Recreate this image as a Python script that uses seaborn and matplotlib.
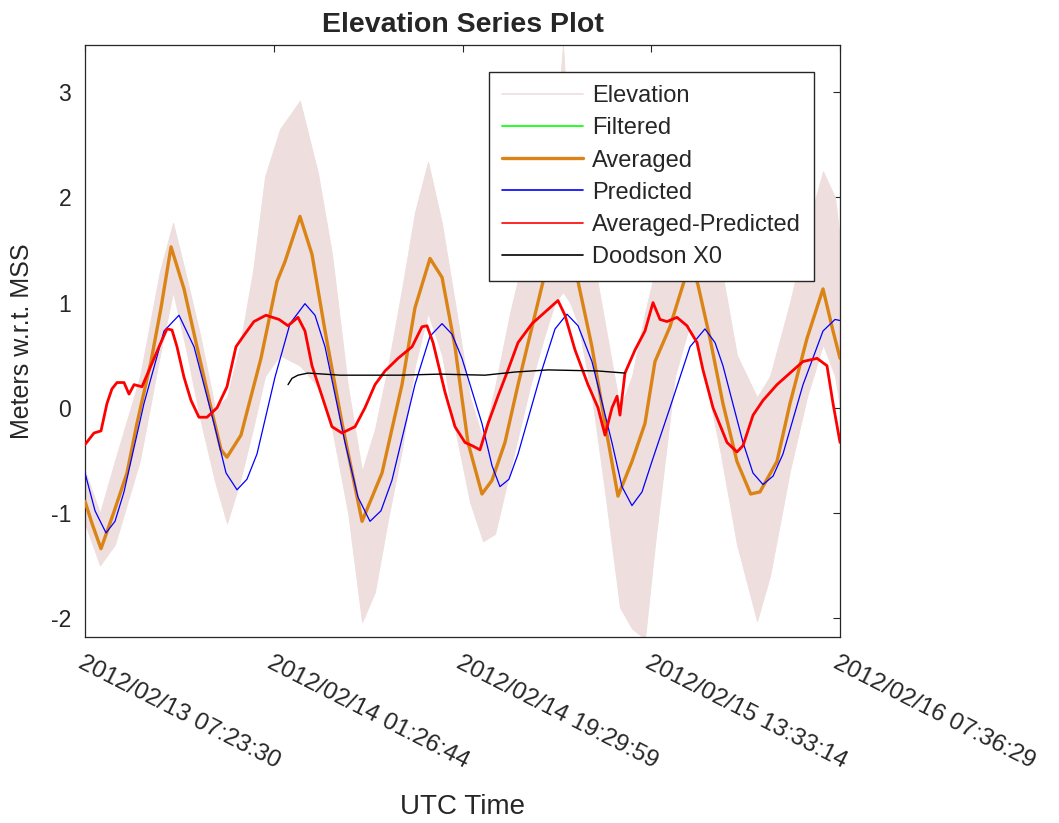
import numpy as np
import pandas as pd
import matplotlib
matplotlib.use("Agg")
import matplotlib.pyplot as plt
import seaborn as sns
from matplotlib.lines import Line2D

# ---------------- data (hours since 2012/02/13 07:23:30) ----------------
avg_t = [0.00, 0.67, 1.53, 2.77, 4.02, 4.97, 6.31, 7.27, 8.23, 9.47,
         10.71, 12.05, 13.01, 13.58, 14.92, 15.49, 16.83, 18.36, 19.13, 20.56,
         21.71, 22.96, 24.59, 26.50, 28.41, 30.32, 31.56, 33.00, 34.15, 35.39,
         36.63, 37.97, 38.93, 40.17, 41.42, 42.76, 43.81, 45.53, 47.16, 48.49,
         49.74, 50.98, 52.32, 53.56, 54.52, 55.95, 57.20, 57.87, 58.63, 59.78,
         61.02, 62.36, 63.67, 64.56, 66.19, 67.43, 69.06, 70.59, 71.55, 72.22]
avg_v = [-0.89, -1.10, -1.34, -0.99, -0.62, -0.15, 0.44, 0.95, 1.53, 1.13,
         0.58, 0.00, -0.40, -0.47, -0.26, -0.04, 0.47, 1.20, 1.39, 1.82,
         1.46, 0.73, -0.15, -1.08, -0.62, 0.22, 0.95, 1.42, 1.24, 0.58,
         -0.33, -0.82, -0.69, -0.33, 0.22, 0.77, 1.20, 1.80, 1.20, 0.58,
         -0.15, -0.84, -0.51, -0.15, 0.44, 0.77, 1.17, 1.40, 1.17, 0.66,
         0.04, -0.51, -0.82, -0.80, -0.51, 0.04, 0.66, 1.13, 0.73, 0.47]

pred_t = [0.00, 0.96, 2.01, 2.87, 3.73, 5.64, 7.56, 8.99, 10.43, 12.34,
          13.49, 14.54, 15.49, 16.45, 18.17, 19.61, 21.04, 22.00, 22.96, 24.87,
          26.11, 27.26, 28.31, 29.36, 31.56, 33.00, 34.15, 35.10, 36.06, 37.97,
          38.93, 39.69, 40.55, 41.42, 43.71, 44.96, 46.10, 47.16, 48.49, 50.40,
          51.36, 52.32, 53.28, 54.23, 55.95, 57.87, 59.30, 60.26, 61.02, 62.94,
          63.89, 64.85, 65.81, 66.76, 68.68, 70.59, 71.74, 72.22]
pred_v = [-0.62, -0.98, -1.19, -1.08, -0.80, 0.04, 0.73, 0.88, 0.58, -0.15,
          -0.62, -0.78, -0.68, -0.44, 0.29, 0.80, 0.99, 0.88, 0.58, -0.33,
          -0.85, -1.08, -0.98, -0.69, 0.22, 0.68, 0.80, 0.70, 0.47, -0.15,
          -0.55, -0.75, -0.68, -0.44, 0.36, 0.75, 0.89, 0.78, 0.44, -0.33,
          -0.75, -0.93, -0.80, -0.51, 0.00, 0.58, 0.75, 0.62, 0.40, -0.33,
          -0.62, -0.73, -0.65, -0.44, 0.22, 0.73, 0.84, 0.83]

diff_t = [0.00, 0.86, 1.53, 2.10, 2.58, 3.06, 3.73, 4.21, 4.69, 5.45,
          6.31, 7.08, 7.84, 8.32, 8.80, 9.47, 10.14, 10.90, 11.67, 12.63,
          13.58, 14.44, 15.21, 16.16, 17.31, 18.56, 19.42, 20.37, 21.04, 21.71,
          22.67, 23.62, 24.58, 25.83, 26.78, 27.74, 28.70, 29.94, 31.28, 32.23,
          32.71, 33.29, 34.43, 35.39, 36.35, 37.02, 37.78, 38.55, 39.50, 40.46,
          41.42, 42.76, 44.00, 45.24, 45.91, 46.87, 48.11, 49.07, 49.74, 50.41,
          50.89, 51.17, 51.65, 52.61, 53.56, 54.33, 55.00, 55.67, 56.62, 57.58,
          58.54, 59.11, 60.07, 61.41, 62.36, 62.94, 63.90, 64.85, 66.19, 67.43,
          68.68, 70.02, 70.97, 71.55, 72.22]
diff_v = [-0.35, -0.24, -0.22, 0.04, 0.18, 0.24, 0.24, 0.13, 0.22, 0.20,
          0.40, 0.58, 0.75, 0.74, 0.58, 0.29, 0.07, -0.09, -0.09, 0.00,
          0.20, 0.58, 0.69, 0.82, 0.88, 0.84, 0.78, 0.86, 0.73, 0.40,
          0.11, -0.18, -0.24, -0.18, 0.00, 0.22, 0.35, 0.47, 0.58, 0.77,
          0.78, 0.62, 0.15, -0.18, -0.33, -0.36, -0.40, -0.15, 0.11, 0.36,
          0.62, 0.80, 0.91, 1.02, 0.88, 0.55, 0.22, 0.00, -0.26, 0.00,
          0.11, -0.07, 0.33, 0.55, 0.73, 1.00, 0.84, 0.82, 0.86, 0.78,
          0.62, 0.36, 0.00, -0.33, -0.42, -0.36, -0.07, 0.07, 0.22, 0.33,
          0.44, 0.47, 0.40, 0.04, -0.33]

x0_t = [19.42, 19.80, 20.37, 21.33, 24.39, 30.13, 33.96, 38.26, 41.13, 44.29, 49.07, 51.65]
x0_v = [0.22, 0.28, 0.31, 0.33, 0.31, 0.31, 0.32, 0.31, 0.34, 0.36, 0.35, 0.33]

elev_t = [0.0, 1.43, 2.87, 5.26, 7.17, 8.42, 9.57, 11.0, 12.43, 13.58,
          14.83, 16.07, 17.22, 18.65, 20.56, 22.29, 23.63, 25.16, 26.5, 27.74,
          28.99, 30.32, 31.56, 32.81, 34.15, 35.39, 36.83, 38.07, 39.22, 40.65,
          42.57, 44.0, 44.96, 45.72, 46.39, 47.16, 48.49, 49.74, 51.17, 52.32,
          53.56, 54.52, 56.43, 57.87, 59.3, 60.74, 62.36, 64.28, 65.52, 67.43,
          69.06, 70.59, 71.74, 72.22]
elev_hi = [-0.6, -1.0, -0.5, 0.3, 1.3, 1.76, 1.3, 0.7, 0.0, 0.1,
           0.6, 1.3, 2.2, 2.65, 2.92, 2.23, 1.46, 0.2, -0.6, -0.2,
           0.4, 1.13, 1.86, 2.34, 1.75, 1.0, 0.1, -0.3, 0.2, 0.9,
           1.7, 2.3, 2.5, 3.45, 2.4, 2.2, 1.5, 0.8, 0.0, 0.3,
           0.9, 1.3, 2.1, 2.4, 2.0, 1.4, 0.5, 0.1, 0.3, 1.0,
           1.7, 2.25, 2.0, 1.6]
elev_lo = [-1.1, -1.5, -1.3, -0.5, 0.5, 1.1, 0.6, -0.1, -0.7, -1.1,
           -0.7, -0.2, 0.3, 0.5, 0.4, 0.2, -0.2, -1.0, -2.04, -1.75,
           -1.06, -0.4, 0.4, 0.9, 0.5, -0.2, -0.9, -1.27, -1.2, -0.6,
           0.2, 0.7, 1.0, 1.1, 1.0, 0.8, 0.1, -0.8, -1.9, -2.1,
           -2.2, -1.3, 0.3, 0.8, 0.3, -0.4, -1.3, -2.03, -1.6, -0.6,
           0.1, 0.6, 0.3, 0.0]

tick_hours = [0.0, 18.054, 36.108, 54.162, 72.216]
tick_labels = ["2012/02/13 07:23:30", "2012/02/14 01:26:44", "2012/02/14 19:29:59",
               "2012/02/15 13:33:14", "2012/02/16 07:36:29"]
y_ticks = [-2, -1, 0, 1, 2, 3]

# ---------------- styling ----------------
sns.set_theme(style="white")
plt.rcParams["font.family"] = ["Liberation Sans", "DejaVu Sans"]

C_ELEV = "#EEDEDE"
C_FILT = "#00FF00"
C_AVG = "#DA8416"
C_PRED = "#0000FF"
C_DIFF = "#FF0000"
C_X0 = "#000000"
C_AX = "#262626"

fig = plt.figure(figsize=(10.59, 8.23), dpi=100)
ax = fig.add_axes([85 / 1059, 1 - 637 / 823, 755 / 1059, 592 / 823])

ax.fill_between(elev_t, elev_lo, elev_hi, color=C_ELEV, lw=0.6, ec=C_ELEV, zorder=1)

df_avg = pd.DataFrame({"t": avg_t, "v": avg_v})
df_pred = pd.DataFrame({"t": pred_t, "v": pred_v})
df_diff = pd.DataFrame({"t": diff_t, "v": diff_v})
df_x0 = pd.DataFrame({"t": x0_t, "v": x0_v})

sns.lineplot(data=df_avg, x="t", y="v", ax=ax, color=C_FILT, lw=0.6, sort=False, estimator=None, zorder=2)
sns.lineplot(data=df_avg, x="t", y="v", ax=ax, color=C_AVG, lw=2.4, sort=False, estimator=None, zorder=3)
sns.lineplot(data=df_pred, x="t", y="v", ax=ax, color=C_PRED, lw=0.9, sort=False, estimator=None, zorder=4)
sns.lineplot(data=df_diff, x="t", y="v", ax=ax, color=C_DIFF, lw=2.0, sort=False, estimator=None, zorder=5)
sns.lineplot(data=df_x0, x="t", y="v", ax=ax, color=C_X0, lw=1.0, sort=False, estimator=None, zorder=6)

ax.set_xlim(tick_hours[0], tick_hours[-1])
ax.set_ylim(-2.18, 3.45)
ax.set_xticks(tick_hours)
ax.set_xticklabels(tick_labels, rotation=-27, ha="left", va="top",
                   rotation_mode="anchor", fontsize=17.5, color=C_AX)
ax.set_yticks(y_ticks)
ax.set_yticklabels([str(v) for v in y_ticks], fontsize=16.5, color=C_AX)
ax.tick_params(axis="x", pad=11)
ax.tick_params(axis="y", pad=10)
ax.tick_params(direction="in", top=True, right=True, length=5, width=0.8,
               color=C_AX)
for s in ax.spines.values():
    s.set_color(C_AX)
    s.set_linewidth(0.9)

ax.set_xlabel("UTC Time", fontsize=20, color=C_AX, labelpad=15)
ax.set_ylabel("Meters w.r.t. MSS", fontsize=18, color=C_AX, labelpad=12)
ax.set_title("Elevation Series Plot", fontsize=20.5, fontweight="bold", pad=9)

handles = [Line2D([], [], color=C_ELEV, lw=1.2),
           Line2D([], [], color=C_FILT, lw=1.2),
           Line2D([], [], color=C_AVG, lw=2.4),
           Line2D([], [], color=C_PRED, lw=1.2),
           Line2D([], [], color=C_DIFF, lw=1.2),
           Line2D([], [], color=C_X0, lw=1.2)]
names = ["Elevation", "Filtered", "Averaged", "Predicted", "Averaged-Predicted", "Doodson X0"]
leg = ax.legend(handles, names, loc="upper right", bbox_to_anchor=(0.9656, 0.954),
                borderaxespad=0.0,
                fontsize=17, frameon=True, fancybox=False, framealpha=1,
                edgecolor=C_AX, handlelength=3.4, handletextpad=0.4,
                labelspacing=0.43, borderpad=0.55)
leg.get_frame().set_linewidth(1.0)
leg.set_zorder(10)

fig.savefig("out.png", dpi=100)
